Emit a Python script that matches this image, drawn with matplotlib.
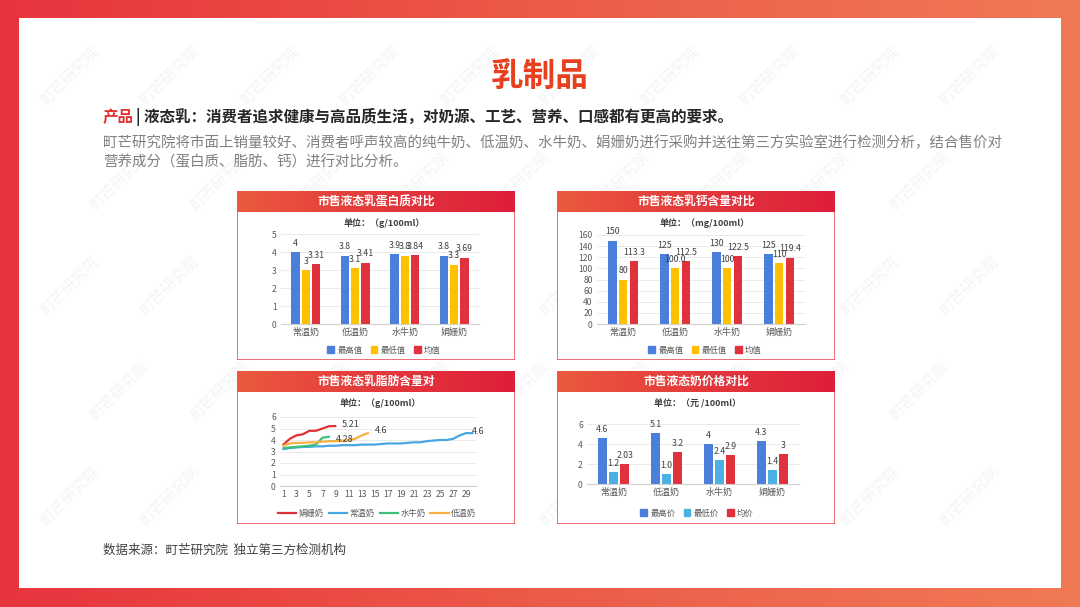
import numpy as np
import matplotlib
matplotlib.use('Agg')
import matplotlib.pyplot as plt
from matplotlib.patches import Rectangle, Patch
from matplotlib.colors import LinearSegmentedColormap
from matplotlib.lines import Line2D

plt.rcParams['font.family'] = ['Noto Sans CJK SC', 'DejaVu Sans']

# ---------------- data ----------------
categories = ['常温奶', '低温奶', '水牛奶', '娟姗奶']

protein_series = ['最高值', '最低值', '均值']
protein_max = [4, 3.8, 3.9, 3.8]
protein_min = [3, 3.1, 3.8, 3.3]
protein_avg = [3.31, 3.41, 3.84, 3.69]
protein_max_labels = ['4', '3.8', '3.9', '3.8']
protein_min_labels = ['3', '3.1', '3.8', '3.3']
protein_avg_labels = ['3.31', '3.41', '3.84', '3.69']

calcium_series = ['最高值', '最低值', '均值']
calcium_max = [150, 125, 130, 125]
calcium_min = [80, 100, 100, 110]
calcium_avg = [113.3, 112.5, 122.5, 119.4]
calcium_max_labels = ['150', '125', '130', '125']
calcium_min_labels = ['80', '100.0', '100', '110']
calcium_avg_labels = ['113.3', '112.5', '122.5', '119.4']

price_series = ['最高价', '最低价', '均价']
price_max = [4.6, 5.1, 4, 4.3]
price_min = [1.2, 1.0, 2.4, 1.4]
price_avg = [2.03, 3.2, 2.9, 3]
price_max_labels = ['4.6', '5.1', '4', '4.3']
price_min_labels = ['1.2', '1.0', '2.4', '1.4']
price_avg_labels = ['2.03', '3.2', '2.9', '3']

fat_series = ['娟姗奶', '常温奶', '水牛奶', '低温奶']
fat_jersey = [3.6, 4.1, 4.4, 4.5, 4.8, 4.8, 5.0, 5.2, 5.21]
fat_ambient = [3.2, 3.3, 3.35, 3.4, 3.4, 3.45, 3.45, 3.5, 3.5, 3.55,
               3.55, 3.55, 3.6, 3.6, 3.6, 3.65, 3.7, 3.7, 3.7, 3.75,
               3.8, 3.8, 3.9, 3.95, 4.0, 4.0, 4.1, 4.4, 4.6, 4.6]
fat_buffalo = [3.3, 3.35, 3.4, 3.45, 3.5, 3.6, 4.2, 4.28]
fat_chilled = [3.5, 3.7, 3.75, 3.75, 3.8, 3.8, 3.85, 3.9, 3.9, 3.95,
               4.0, 4.1, 4.4, 4.6]
fat_end_labels = ['5.21', '4.6', '4.28', '4.6']
fat_xticks = list(range(1, 30, 2))

# ---------------- layout helpers ----------------
W, H = 1080, 607
fig = plt.figure(figsize=(10.8, 6.07), dpi=100)


def rect(x0, y0, x1, y1):
    return [x0 / W, 1 - y1 / H, (x1 - x0) / W, (y1 - y0) / H]


def fpt(x, y):
    return (x / W, 1 - y / H)


# background
bg = fig.add_axes([0, 0, 1, 1])
bg.set_xlim(0, W)
bg.set_ylim(H, 0)
bg.axis('off')
border_cmap = LinearSegmentedColormap.from_list('b', ['#e8343e', '#ec5a48', '#f07a55'])
bg.imshow(np.linspace(0, 1, 256)[None, :], extent=[0, W, H, 0], aspect='auto',
          cmap=border_cmap, zorder=0)
panel = Rectangle((19, 18), 1042, 570, fc='white', ec='none', zorder=1)
bg.add_patch(panel)
for j, yy in enumerate(range(75, 560, 105)):
    for xx in range(70 + (j % 2) * 50, 1010, 100):
        wm = bg.text(xx, yy, '町芒研究院', rotation=45, color='#f4f4f4', fontsize=11,
                     ha='center', va='center', zorder=2)
        wm.set_clip_path(panel)

# titles
fig.text(540 / W, 1 - 76 / H, '乳制品', color='#e8401e', fontsize=23.5,
         weight='bold', ha='center', va='center')
renderer = fig.canvas.get_renderer()
t1 = fig.text(103 / W, 1 - 117 / H, '产品', color='#e03232', fontsize=11.2,
              weight='bold', ha='left', va='center')
bb = t1.get_window_extent(renderer)
fig.text((bb.x1 + 2) / W, 1 - 117 / H,
         '| 液态乳：消费者追求健康与高品质生活，对奶源、工艺、营养、口感都有更高的要求。',
         color='#262626', fontsize=11.2, weight='bold', ha='left', va='center')
fig.text(103 / W, 1 - 143 / H,
         '町芒研究院将市面上销量较好、消费者呼声较高的纯牛奶、低温奶、水牛奶、娟姗奶进行采购并送往第三方实验室进行检测分析，结合售价对',
         color='#808080', fontsize=10.45, weight='medium', ha='left', va='center')
fig.text(103 / W, 1 - 162 / H, '营养成分（蛋白质、脂肪、钙）进行对比分析。',
         color='#808080', fontsize=10.45, weight='medium', ha='left', va='center')
fig.text(103 / W, 1 - 550 / H, '数据来源：町芒研究院  独立第三方检测机构',
         color='#404040', fontsize=9, ha='left', va='center')

header_cmap = LinearSegmentedColormap.from_list('h', ['#ea5a3e', '#e43a3c', '#de1e3a'])


def card(x0, y0, x1, y1, title):
    ax = fig.add_axes(rect(x0, y0, x1, y1))
    ax.set_xlim(0, 1)
    ax.set_ylim(0, 1)
    ax.axis('off')
    ax.add_patch(Rectangle((0, 0), 1, 1, transform=ax.transAxes, fc='white',
                           ec='#e8585a', lw=1.2))
    hx = fig.add_axes(rect(x0, y0, x1, y0 + 21))
    hx.imshow(np.linspace(0, 1, 256)[None, :], extent=[0, 1, 0, 1], aspect='auto',
              cmap=header_cmap)
    hx.set_xlim(0, 1)
    hx.set_ylim(0, 1)
    hx.axis('off')
    hx.text(0.5, 0.5, title, color='white', fontsize=8.5, weight='bold',
            ha='center', va='center')


def style_axes(ax, ylim, yticks):
    ax.set_ylim(*ylim)
    ax.set_yticks(yticks)
    for s in ['top', 'right', 'left']:
        ax.spines[s].set_visible(False)
    ax.spines['bottom'].set_color('#d0d0d0')
    ax.spines['bottom'].set_linewidth(0.8)
    ax.tick_params(length=0, labelsize=6.2, colors='#595959', pad=3)
    ax.grid(axis='y', color='#e6e6e6', lw=0.6)
    ax.set_axisbelow(True)
    ax.patch.set_alpha(0)


def bar_chart(box, series_vals, series_labels, series_names, colors, ylim, yticks,
              unit, unit_y, legend_y):
    x0, y0, x1, y1 = box
    ax = fig.add_axes(rect(x0, y0, x1, y1))
    style_axes(ax, ylim, yticks)
    xs = np.arange(len(categories))
    offs = [-0.21, 0.0, 0.21]
    handles = []
    for vals, labs, name, col, off in zip(series_vals, series_labels, series_names,
                                          colors, offs):
        ax.bar(xs + off, vals, width=0.17, color=col, label=name)
        for xi, v, lab in zip(xs, vals, labs):
            ax.annotate(lab, (xi + off, v), xytext=(0, 3), textcoords='offset points',
                        ha='center', va='bottom', fontsize=6.3, color='#404040')
        handles.append(Patch(color=col, label=name))
    ax.set_xlim(-0.5, len(categories) - 0.5)
    ax.set_xticks(xs)
    ax.set_xticklabels(categories)
    ax.tick_params(axis='x', labelsize=6.5)
    cx = (x0 + x1) / 2 + 4
    fig.text(cx / W, 1 - unit_y / H, unit, fontsize=6.5, weight='bold',
             color='#404040', ha='center', va='center')
    fig.legend(handles=handles, loc='center', bbox_to_anchor=fpt(cx, legend_y),
               ncol=3, frameon=False, fontsize=6, handlelength=0.8, handleheight=0.8,
               columnspacing=1.0, handletextpad=0.4, labelcolor='#595959')
    return ax


blue = '#4a7fdc'
yellow = '#ffc000'
red = '#e0323c'

# Card 1: protein
card(237, 191, 515, 360, '市售液态乳蛋白质对比')
bar_chart((281, 234, 479, 324), [protein_max, protein_min, protein_avg],
          [protein_max_labels, protein_min_labels, protein_avg_labels],
          protein_series, [blue, yellow, red], (0, 5), range(0, 6),
          '单位：（g/100ml）', 223, 350)

# Card 2: calcium
card(557, 191, 835, 360, '市售液态乳钙含量对比')
bar_chart((597, 235, 805, 324), [calcium_max, calcium_min, calcium_avg],
          [calcium_max_labels, calcium_min_labels, calcium_avg_labels],
          calcium_series, [blue, yellow, red], (0, 160), range(0, 161, 20),
          '单位：（mg/100ml）', 223, 350)

# Card 4: price
card(557, 371, 835, 524, '市售液态奶价格对比')
bar_chart((587, 424, 799, 484), [price_max, price_min, price_avg],
          [price_max_labels, price_min_labels, price_avg_labels],
          price_series, ['#4a7fdc', '#4cb0e4', red], (0, 6), range(0, 7, 2),
          '单位：（元 /100ml）', 404, 513)

# Card 3: fat lines
card(237, 371, 515, 524, '市售液态乳脂肪含量对')
ax3 = fig.add_axes(rect(280, 417, 476, 486))
style_axes(ax3, (0, 6), range(0, 7))
line_data = [fat_jersey, fat_ambient, fat_buffalo, fat_chilled]
line_colors = ['#e03236', '#4aa6e2', '#3cc07a', '#f8b040']
label_dx = [1.0, -0.2, 1.1, 1.0]
label_dy = [0.1, 0.1, -0.2, 0.2]
handles = []
for vals, col, name, lab, dx, dy in zip(line_data, line_colors, fat_series,
                                        fat_end_labels, label_dx, label_dy):
    xs = np.arange(1, len(vals) + 1)
    ax3.plot(xs, vals, color=col, lw=1.6, solid_capstyle='round')
    ax3.text(xs[-1] + dx, vals[-1] + dy, lab, fontsize=6.5, color='#404040',
             ha='left', va='center', clip_on=False)
    handles.append(Line2D([0], [0], color=col, lw=1.6, label=name))
ax3.set_xlim(0.5, 30.5)
ax3.set_xticks(fat_xticks)
ax3.set_xticklabels([str(t) for t in fat_xticks])
fig.text(380 / W, 1 - 403 / H, '单位：（g/100ml）', fontsize=6.5, weight='bold',
         color='#404040', ha='center', va='center')
fig.legend(handles=handles, loc='center', bbox_to_anchor=fpt(377, 513), ncol=4,
           frameon=False, fontsize=6, handlelength=2.2, columnspacing=0.6,
           handletextpad=0.3, labelcolor='#595959')

fig.savefig('out.png', dpi=100)
